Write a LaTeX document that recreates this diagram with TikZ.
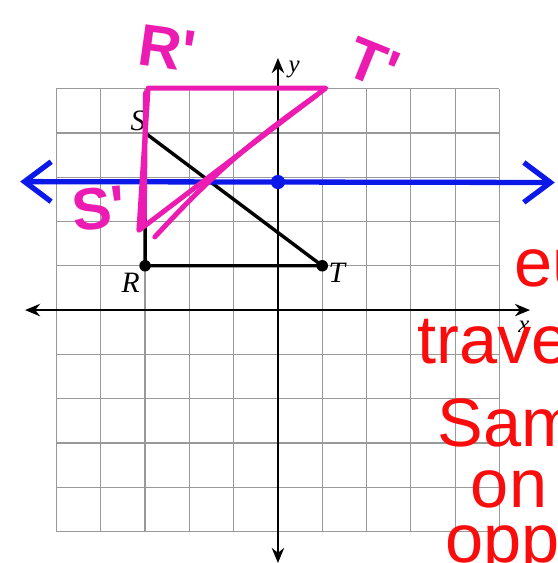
\documentclass[tikz,border=0pt]{standalone}
\usepackage{fontspec}
\newfontfamily\handfont{Liberation Sans}
\newfontfamily\labelfont{Liberation Serif}
\usetikzlibrary{arrows.meta}
\definecolor{penpink}{RGB}{236,28,178}
\definecolor{penblue}{RGB}{12,24,232}
\definecolor{penred}{RGB}{250,12,12}
\tikzset{
  gridln/.style={gray!80, line width=0.8pt},
  axis/.style={{Stealth[length=3.4mm,width=2.8mm,inset=1.1mm]}-{Stealth[length=3.4mm,width=2.8mm,inset=1.1mm]},
               line width=1.3pt},
  side/.style={line width=2.2pt, black},
  pt/.style={circle, fill=black, inner sep=0pt, minimum size=2.6mm},
  vlbl/.style={font=\labelfont\itshape\fontsize{19}{19}\selectfont, inner sep=1pt},
  axlbl/.style={font=\labelfont\itshape\fontsize{16}{16}\selectfont, inner sep=1pt},
  mirror/.style={penblue, line width=3.4pt, line cap=round,
                 {Straight Barb[length=6mm,width=9mm]}-{Straight Barb[length=6mm,width=9mm]}},
  image/.style={penpink, line width=3.2pt, line join=round, line cap=round},
  pinklbl/.style={penpink, font=\handfont\bfseries\fontsize{38}{38}\selectfont, inner sep=0pt},
  note/.style={penred, font=\handfont\fontsize{44}{44}\selectfont, inner sep=0pt, anchor=west},
}
\begin{document}
\begin{tikzpicture}
\useasboundingbox (-6.275,-5.71) rectangle (6.32,7.0);
\clip (-6.275,-5.71) rectangle (6.32,7.0);
% grid and axes
\draw[gridln] (-5,-5) grid (5,5);
\coordinate (xl) at (-5.71,0);
\coordinate (xr) at (5.69,0);
\coordinate (yb) at (0,-5.71);
\coordinate (yt) at (0,5.69);
\draw[axis] (xl) -- (xr);
\draw[axis] (yb) -- (yt);
\node[axlbl, anchor=south west] (ylab) at (0.2,5.2) {y};
\node[axlbl, anchor=north] (xlab) at (5.55,-0.2) {x};
% triangle RST
\node[pt] (R) at (-3,1) {};
\node[pt] (T) at (1,1) {};
\coordinate (S) at (-3,4);
\draw[side, line join=round] (S) -- (R.center) -- (T.center) -- cycle;
\node[vlbl, anchor=south east] (Slab) at (-2.95,4.0) {S};
\node[vlbl, anchor=north east] (Rlab) at (-3.08,0.88) {R};
\node[vlbl, anchor=west] (Tlab) at (1.1,0.85) {T};
% line of reflection
\coordinate (ml) at (-5.82,2.9);
\coordinate (mr) at (6.25,2.88);
\draw[mirror] (ml) -- (mr);
\node[circle, fill=penblue, inner sep=0pt, minimum size=3.2mm] (mid) at (0,2.89) {};
% image R'S'T'
\coordinate (R') at (-2.93,5.01);
\coordinate (T') at (1.08,5.01);
\coordinate (S') at (-3.14,1.8);
\draw[image] (S') -- (R') -- (T') -- cycle;
\coordinate (s1) at (-2.78,1.65);
\coordinate (t1) at (0.86,4.84);
\draw[image] (s1) to[bend left=6] (t1);
\draw[image] (-2.99,4.9) -- (-3.02,1.9);
\node[pinklbl, rotate=-8] (Rplab) at (-2.5,5.9) {R'};
\node[pinklbl, rotate=-22] (Tplab) at (2.15,5.55) {T'};
\node[pinklbl, rotate=6] (Splab) at (-4.05,2.3) {S'};
% notes
\node[note] (n1) at (5.33,0.95) {eu};
\node[note] (n2) at (3.15,-0.72) {trave};
\node[note] (n3) at (3.6,-2.55) {Same};
\node[note] (n4) at (4.35,-4.05) {on};
\node[note] (n5) at (3.78,-5.45) {opp.};
\end{tikzpicture}
\end{document}
